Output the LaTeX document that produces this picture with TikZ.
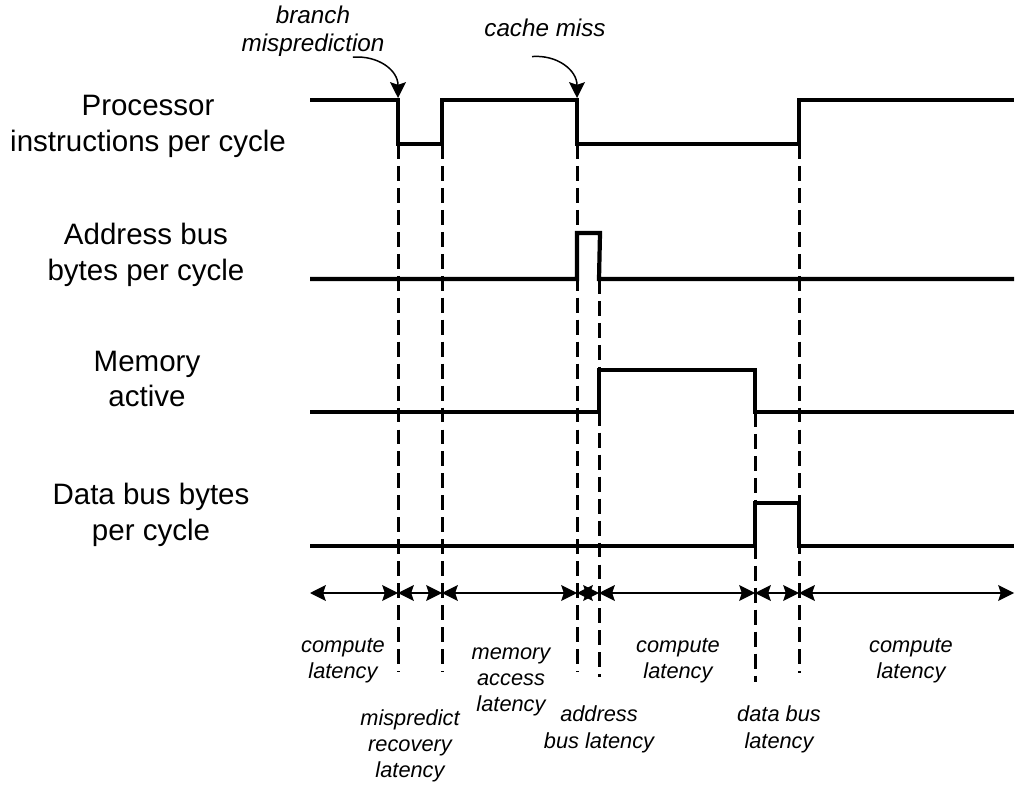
\documentclass[tikz,border=0pt]{standalone}
\usepackage{fontspec}
\setmainfont{Liberation Sans}
\usetikzlibrary{arrows.meta}

\begin{document}
\begin{tikzpicture}[x=0.02cm,y=-0.02cm,
	wave/.style={line width=2.4pt},
	guide/.style={line width=1.7pt,dash pattern=on 8.5pt off 4pt},
	span/.style={line width=0.85pt,{Stealth[length=9pt,width=9pt,inset=1.5pt]}-{Stealth[length=9pt,width=9pt,inset=1.5pt]}},
	event/.style={line width=0.85pt,-{Stealth[length=9pt,width=9pt,inset=1.5pt]}},
	signame/.style={font=\fontsize{16.8}{20.4}\selectfont,align=center,inner sep=0pt},
	note/.style={font=\fontsize{12.4}{15}\selectfont\itshape,align=center,inner sep=0pt},
	bignote/.style={note,font=\fontsize{13.8}{16}\selectfont\itshape}]

\useasboundingbox (0,0) rectangle (1016,786);

\node[signame] (proc) at (148,126.5) {Processor\\instructions per cycle};
\node[signame] (addr) at (146,254.5) {Address bus\\bytes per cycle};
\node[signame] (mem) at (147,379) {Memory\\active};
\node[signame] (data) at (151,514.5) {Data bus bytes\\per cycle};

\draw[wave] (310,100) -- (398,100) -- (398,144) -- (442,144) -- (442,100) -- (577,100) -- (577,144) -- (799,144) -- (799,100) -- (1014,100);
\draw[wave] (310,279) -- (577,279) -- (577,233) -- (600,233) -- (599,279) -- (1014,279);
\draw[wave] (310,412) -- (599,412) -- (599,370) -- (755,370) -- (755,412) -- (1014,412);
\draw[wave] (310,546) -- (755,546) -- (755,503) -- (799,503) -- (799,546) -- (1014,546);

\foreach \x/\a/\b in {398/144/672,442/144/672,577/144/672,599/279/677,755/412/682,799/144/673}
	\draw[guide] (\x,\a) -- (\x,\b);

\foreach \n/\x in {0/310,1/398,2/442,3/577,4/599,5/755,6/799,7/1014}
	\coordinate (t\n) at (\x,593);
\foreach \a/\b in {0/1,1/2,2/3,3/4,4/5,5/6,6/7}
	\draw[span] (t\a) -- (t\b);

\node[bignote] (branch) at (313,31.5) {branch\\misprediction};
\node[bignote,anchor=base] (miss) at (545,37) {cache miss};
\coordinate (mispred) at (398,98);
\coordinate (cachemiss) at (577,98);
\draw[event] ([xshift=22.7pt]branch.south) .. controls +(25,-2) and +(0,-28) .. (mispred);
\draw[event] ([xshift=-7.4pt,yshift=-10.8pt]miss.south) .. controls +(25,-2) and +(0,-28) .. (cachemiss);

\node[note] (comp1) at (343,661) {compute\\latency};
\node[note] (recov) at (410,746) {mispredict\\recovery\\latency};
\node[note] (memlat) at (511,682) {memory\\access\\latency};
\node[note] (addrlat) at (599,729.5) {address\\bus latency};
\node[note] (comp2) at (678,661) {compute\\latency};
\node[note] (datalat) at (779,729.5) {data bus\\latency};
\node[note] (comp3) at (911,661) {compute\\latency};

\end{tikzpicture}
\end{document}
